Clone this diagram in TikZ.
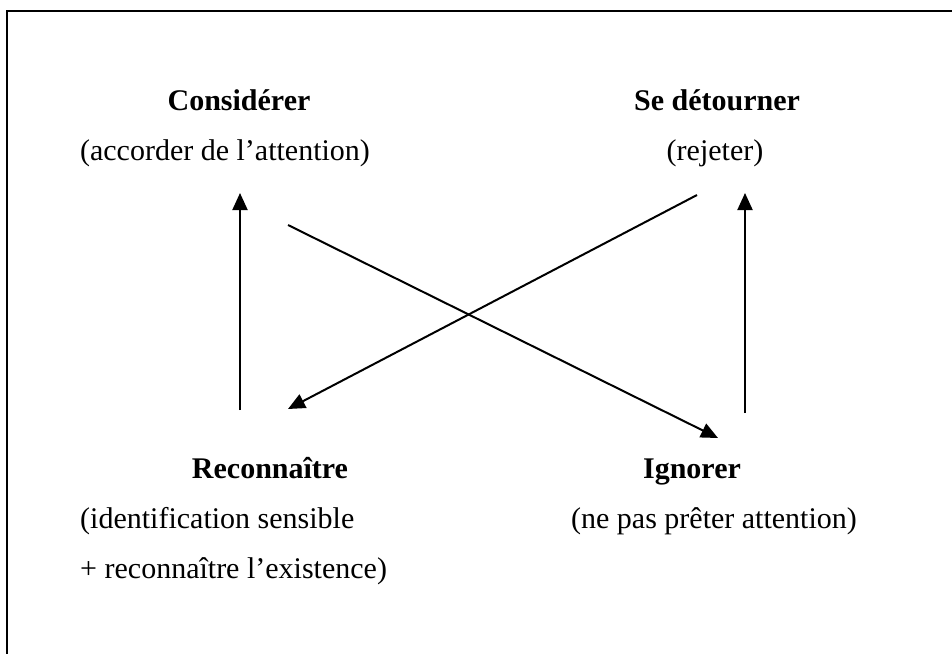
\documentclass[tikz,border=0pt]{standalone}
\usepackage{fontspec}
\setmainfont{Liberation Serif}
\usepackage{tikz}
\usetikzlibrary{arrows.meta, positioning}

\begin{document}
\begin{tikzpicture}[
    x=1pt, y=-1pt,
    title/.style = {font=\fontsize{30}{50}\selectfont\bfseries, inner sep=0pt, anchor=base},
    subtext/.style = {font=\fontsize{30}{50}\selectfont, inner sep=0pt, anchor=base, align=left},
    link/.style = {line width=2pt, -{Triangle[length=17pt, width=15pt]}},
    >=Stealth]

    \useasboundingbox (0,0) rectangle (952,653);
    \draw[line width=2.6pt] (7,700) -- (7,11) -- (960,11);

    \node[title] (consider) at (239,110) {Considérer};
    \node[subtext] (consider-sub) at (225,160) {(accorder de l’attention)};
    \node[title] (turn) at (717,110) {Se détourner};
    \node[subtext] (turn-sub) at (715,160) {(rejeter)};

    \node[title] (recog) at (270,478) {Reconnaître};
    \node[subtext, anchor=base west] (recog-sub) at (80,578) {(identification sensible\\+ reconnaître l’existence)};
    \node[title] (ignore) at (692,478) {Ignorer};
    \node[subtext] (ignore-sub) at (714,528) {(ne pas prêter attention)};

    % arrow ends
    \coordinate (a1) at (240,410);
    \coordinate (a2) at (240,193);
    \coordinate (b1) at (745,413);
    \coordinate (b2) at (745,193);
    \coordinate (c1) at (288,225);
    \coordinate (c2) at (718,438);
    \coordinate (d1) at (697,195);
    \coordinate (d2) at (288,409);

    \draw[link] (a1) -- (a2);
    \draw[link] (b1) -- (b2);
    \draw[link] (c1) -- (c2);
    \draw[link] (d1) -- (d2);
\end{tikzpicture}
\end{document}
